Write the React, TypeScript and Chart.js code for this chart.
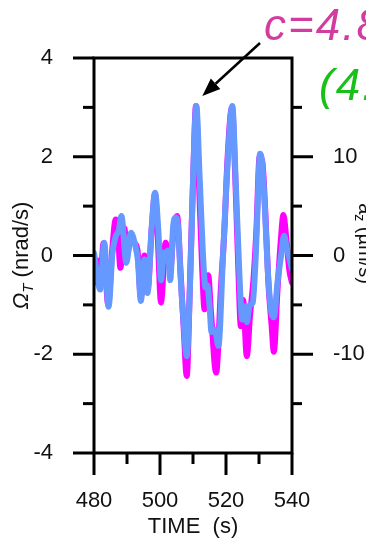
import React, { useEffect, useRef } from 'react';
import { Chart, registerables } from 'chart.js';

Chart.register(...registerables);

// ---- data ----
// blue trace: a_z in µm/s² (right axis)
const blueTime = [
  480, 481.9, 483.1, 484.4, 485.6, 486.6, 487.5, 488.3, 489.8, 491.2,
  492.5, 493.3, 494.2, 495.3, 496.2, 497.5, 498.5, 499.5, 500.3, 501.2,
  501.9, 502.4, 503.1, 504.0, 504.8, 505.5, 506.3, 507.2, 508.1, 509.2,
  510.1, 511.0, 512.0, 513.2, 513.8, 514.3, 515.0, 515.6, 516.6, 517.7,
  519.1, 520.6, 521.9, 523.0, 524.1, 524.9, 525.6, 526.3, 527.2, 528.1,
  529.1, 529.9, 530.3, 531.0, 531.9, 532.6, 533.6, 534.5, 535.6, 536.7,
  537.6, 538.4, 539.2, 540,
];
const blueAccel = [
  0.25, -3.45, 1.3, -5.2, 0.25, 1.95, 2.5, 4.0, -0.75, 2.3,
  1.0, -0.5, -4.6, -0.4, -3.8, 2.95, 6.35, 2.5, -2.5, 0.3,
  -0.4, 0.5, -2.5, 3.0, 3.85, 2.75, -2.5, -7.0, -10.2, -2.0,
  8.5, 15.15, 8.0, -1.0, -3.25, -3.0, -5.0, -7.75, -7.5, -9.15,
  0.0, 10.0, 15.15, 7.0, -2.25, -6.5, -5.15, -6.75, -5.0, -4.8,
  0.6, 8.0, 10.3, 9.25, 4.0, -1.1, -5.45, -6.25, -2.75, 0.0,
  2.0, 0.75, -0.25, -1.4,
];
// magenta trace: Ω_T in nrad/s (left axis)
const magTime = [
  480, 481.0, 481.9, 482.9, 484.3, 485.5, 486.6, 487.2, 488.0, 489.2,
  490.0, 491.2, 492.3, 493.2, 494.2, 495.3, 496.2, 497.5, 498.5, 499.3,
  500.3, 501.7, 502.5, 503.1, 504.1, 505.2, 506.2, 507.2, 508.1, 509.1,
  510.1, 510.9, 511.8, 512.8, 513.5, 514.6, 515.5, 517.0, 518.5, 519.5,
  520.5, 521.8, 522.8, 523.7, 524.5, 525.2, 526.3, 527.3, 528.3, 529.2,
  530.2, 531.0, 531.9, 532.8, 533.8, 534.5, 535.6, 536.6, 537.4, 538.2,
  539.2, 540,
];
const magRot = [
  -0.55, -0.1, -0.5, 0.25, -1.0, 0.1, 0.73, 0.55, -0.25, 0.55,
  0.0, 0.4, 0.25, 0.1, -0.85, 0.0, -0.7, 0.55, 1.25, 0.4,
  -0.95, 0.26, 0.0, -0.3, 0.5, 0.8, -0.3, -1.5, -2.44, -0.5,
  1.7, 3.03, 1.5, -0.3, -1.09, -0.4, -1.2, -2.37, -0.6, 0.5,
  2.0, 3.0, 1.6, -0.2, -1.43, -0.9, -2.04, -1.2, -0.5, 0.5,
  2.0, 1.9, 0.9, -0.5, -1.4, -1.95, -0.7, 0.3, 0.82, 0.4,
  -0.3, -0.55,
];

const xMin = 480, xMax = 540, xStep = 20;
const leftMin = -4, leftMax = 4, leftStep = 2;
const rightMin = -20, rightMax = 20, rightStep = 10;
const annotationMain = 'c=4.8 km/s';
const annotationAlt = '(4.7 km/s)';
const peakTime = 511;
const peakValue = 3.03;

const FONT = '"Liberation Sans", Arial, Helvetica, sans-serif';
const CANVAS_W = 420;
const CANVAS_H = 540;

const framePlugin = {
  id: 'framePlugin',
  afterDraw(chart: any) {
    const { ctx, chartArea, scales } = chart;
    const { left: L, right: R, top: T, bottom: B } = chartArea;
    const xs = scales.x, ys = scales.y, yr = scales.y1;
    ctx.save();
    ctx.strokeStyle = '#000';
    ctx.lineWidth = 3;
    ctx.lineCap = 'butt';
    const seg = (a: number, b: number, c: number, d: number) => {
      ctx.beginPath();
      ctx.moveTo(a, b);
      ctx.lineTo(c, d);
      ctx.stroke();
    };
    ctx.strokeRect(L, T, R - L, B - T);
    for (let v = leftMin; v <= leftMax; v += 1) {
      const len = v % 2 === 0 ? 21 : 11;
      const py = ys.getPixelForValue(v);
      seg(L - len, py, L, py);
    }
    for (let v = -15; v <= 15; v += 5) {
      const len = v % 10 === 0 ? 21 : 10;
      const py = yr.getPixelForValue(v);
      seg(R, py, R + len, py);
    }
    for (let t = xMin; t <= xMax; t += 10) {
      const len = (t - xMin) % 20 === 0 ? 22 : 11;
      const px = xs.getPixelForValue(t);
      seg(px, B, px, B + len);
    }

    // left axis title: Ω_T (nrad/s)
    ctx.fillStyle = '#111';
    ctx.textBaseline = 'alphabetic';
    ctx.textAlign = 'left';
    {
      const f1 = `italic 22px ${FONT}`;
      const f2 = `italic 15px ${FONT}`;
      const f3 = `22px ${FONT}`;
      ctx.font = f1; const w1 = ctx.measureText('Ω').width;
      ctx.font = f2; const w2 = ctx.measureText('T').width;
      ctx.font = f3; const w3 = ctx.measureText(' (nrad/s)').width;
      const tot = w1 + w2 + w3;
      ctx.save();
      ctx.translate(L - 66, (T + B) / 2);
      ctx.rotate(-Math.PI / 2);
      let x0 = -tot / 2;
      ctx.font = f1; ctx.fillText('Ω', x0, 0); x0 += w1;
      ctx.font = f2; ctx.fillText('T', x0, 5); x0 += w2;
      ctx.font = f3; ctx.fillText(' (nrad/s)', x0, 0);
      ctx.restore();
    }
    // right axis title: a_z (µm/s)
    {
      const f1 = `20px ${FONT}`;
      const f2 = `14px ${FONT}`;
      ctx.font = f1; const w1 = ctx.measureText('a').width;
      ctx.font = f2; const w2 = ctx.measureText('z').width;
      ctx.font = f1; const w3 = ctx.measureText(' (µm/s)').width;
      const tot = w1 + w2 + w3;
      ctx.save();
      ctx.translate(R + 67, (T + B) / 2 - 12);
      ctx.rotate(Math.PI / 2);
      let x0 = -tot / 2;
      ctx.font = f1; ctx.fillText('a', x0, 0); x0 += w1;
      ctx.font = f2; ctx.fillText('z', x0, 4); x0 += w2;
      ctx.font = f1; ctx.fillText(' (µm/s)', x0, 0);
      ctx.restore();
    }

    // annotations
    ctx.font = `italic 44px ${FONT}`;
    (ctx as any).letterSpacing = '2px';
    ctx.fillStyle = '#d23ca0';
    ctx.fillText(annotationMain, 264, 40);
    ctx.fillStyle = '#18c018';
    ctx.fillText(annotationAlt, 319, 100);
    (ctx as any).letterSpacing = '0px';

    // arrow
    const tipX = xs.getPixelForValue(peakTime) + 6;
    const tipY = ys.getPixelForValue(peakValue) - 10;
    const sx = 260, sy = 43;
    const ang = Math.atan2(tipY - sy, tipX - sx);
    const headLen = 18, headHalf = 7;
    const bx = tipX - headLen * Math.cos(ang);
    const by = tipY - headLen * Math.sin(ang);
    ctx.lineWidth = 2.5;
    seg(sx, sy, bx, by);
    ctx.fillStyle = '#000';
    ctx.beginPath();
    ctx.moveTo(tipX, tipY);
    ctx.lineTo(bx + headHalf * Math.sin(ang), by - headHalf * Math.cos(ang));
    ctx.lineTo(bx - headHalf * Math.sin(ang), by + headHalf * Math.cos(ang));
    ctx.closePath();
    ctx.fill();
    ctx.restore();
  },
};

export default function App() {
  const canvasRef = useRef<HTMLCanvasElement | null>(null);

  useEffect(() => {
    if (!canvasRef.current) return;
    Chart.defaults.font.family = FONT;
    Chart.defaults.color = '#111';
    const chart = new Chart(canvasRef.current, {
      type: 'line',
      data: {
        datasets: [
          {
            label: 'a_z',
            data: blueTime.map((t, i) => ({ x: t, y: blueAccel[i] })),
            yAxisID: 'y1',
            borderColor: '#6699ff',
            borderWidth: 6,
            pointRadius: 0,
            cubicInterpolationMode: 'monotone',
            borderCapStyle: 'round',
            borderJoinStyle: 'round',
            fill: false,
          },
          {
            label: 'Ω_T',
            data: magTime.map((t, i) => ({ x: t, y: magRot[i] })),
            yAxisID: 'y',
            borderColor: '#ff00ff',
            borderWidth: 6,
            pointRadius: 0,
            cubicInterpolationMode: 'monotone',
            borderCapStyle: 'round',
            borderJoinStyle: 'round',
            fill: false,
          },
        ],
      },
      plugins: [framePlugin],
      options: {
        responsive: false,
        devicePixelRatio: 1,
        animation: false,
        layout: { padding: { top: 58, left: 0, right: 0, bottom: 0 } },
        plugins: { legend: { display: false }, tooltip: { enabled: false } },
        scales: {
          x: {
            type: 'linear',
            position: 'bottom',
            min: xMin,
            max: xMax,
            grid: { display: false },
            border: { display: false },
            ticks: {
              stepSize: xStep,
              padding: 27,
              maxRotation: 0,
              autoSkip: false,
              font: { size: 22 },
            },
            title: {
              display: true,
              text: 'TIME  (s)',
              font: { size: 22 },
              padding: { top: 0, bottom: 0 },
            },
            afterFit: (s: any) => { s.height = 87; },
          },
          y: {
            position: 'left',
            min: leftMin,
            max: leftMax,
            grid: { display: false },
            border: { display: false },
            ticks: { stepSize: leftStep, padding: 33, font: { size: 22 } },
            afterFit: (s: any) => { s.width = 94; },
          },
          y1: {
            position: 'right',
            min: rightMin,
            max: rightMax,
            grid: { display: false },
            border: { display: false },
            ticks: {
              stepSize: rightStep,
              padding: 33,
              font: { size: 22 },
              callback: (v: any) => (Math.abs(Number(v)) === 20 ? '' : String(v)),
            },
            afterFit: (s: any) => { s.width = CANVAS_W - 292; },
          },
        },
      },
    } as any);
    return () => chart.destroy();
  }, []);

  return (
    <div
      style={{
        position: 'fixed',
        left: 0,
        top: 0,
        width: 366,
        height: 540,
        overflow: 'hidden',
        background: '#fff',
      }}
    >
      <canvas
        ref={canvasRef}
        width={CANVAS_W}
        height={CANVAS_H}
        style={{ width: CANVAS_W, height: CANVAS_H, display: 'block' }}
      />
    </div>
  );
}
